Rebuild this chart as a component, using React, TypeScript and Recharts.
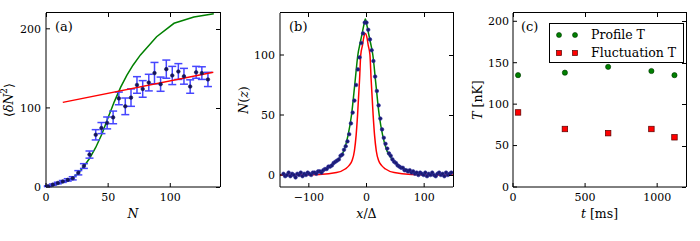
import React from 'react';
import { ComposedChart, Scatter, Line, XAxis, YAxis, ErrorBar, Legend } from 'recharts';

const SERIF = '"DejaVu Serif", "Liberation Serif", serif';
const TICK = { fontSize: 11, fontFamily: SERIF, fill: '#000' };
const CHART_H = 241;
const TOP = 13;
const X_AXIS_H = 54;
const PLOT_H = CHART_H - TOP - X_AXIS_H;

// (a) number fluctuations vs atom number
const atomNumber = [1.5, 5.5, 9.5, 13.5, 17.5, 21.5, 26, 30.5, 35, 40, 44.6, 49.2, 54, 58.6, 63.8, 68.4, 73.2, 77.8, 82.7, 87.3, 92.2, 96.8, 101.6, 106.5, 111, 116, 120.8, 125.4, 130.3];
const variance = [1, 3, 5, 7, 9, 11, 18, 26.5, 41, 66, 74.5, 81, 88, 112, 102, 113, 129, 124, 132, 144, 130, 149, 141, 146, 140, 127, 145, 144, 136];
const varianceErr = [0.5, 0.8, 1, 1.2, 1.5, 2, 2.7, 3, 4.5, 6.5, 7, 7.5, 8, 8, 10.5, 11, 10.5, 10.5, 10.5, 13.5, 9, 11.5, 11.5, 10, 10, 8.5, 7.5, 8, 9];
const theoryN = [0, 5, 10, 15, 20, 25, 30, 35, 40, 45, 50, 55, 60, 65, 70, 76, 89, 103, 119, 135];
const theoryVar = [0, 1.5, 4, 6.5, 10, 16, 25, 36, 50, 67, 88, 108, 126, 141, 154, 167, 190, 207, 215, 219];
const linearN = [13.5, 134.6];
const linearVar = [107, 145];

// (b) density profile
const posX = [-144, -141, -138, -135, -132, -129, -126, -123, -120, -117, -114, -111, -108, -105, -102, -99, -96, -93, -90, -87, -84, -81, -78, -75, -72, -69, -66, -63, -60, -57, -54, -51, -48, -45, -42, -39, -36, -33, -30, -27, -24, -21, -18, -15, -12, -9, -6, -3, 0, 3, 6, 9, 12, 15, 18, 21, 24, 27, 30, 33, 36, 39, 42, 45, 48, 51, 54, 57, 60, 63, 66, 69, 72, 75, 78, 81, 84, 87, 90, 93, 96, 99, 102, 105, 108, 111, 114, 117, 120, 123, 126, 129, 132, 135, 138, 141, 144, 147];
const posCounts = [1, -1, 0, 2, -1, 1, 0, -2, 1, 0, 2, -1, 1, 0, 2, 1, 0, 2, 2, 1, 3, 3, 2, 4, 5, 5, 7, 7, 8, 10, 11, 12, 13, 16, 17, 21, 24, 28, 34, 43, 52, 62, 75, 88, 98, 110, 118, 127, 127, 121, 113, 104, 95, 82, 70, 58, 47, 38, 31, 26, 22, 18, 16, 13, 11, 10, 8, 7, 6, 6, 4, 4, 3, 4, 2, 3, 1, 2, 0, 2, 1, 0, 2, -1, 1, 0, 2, 0, -1, 1, 2, 0, 1, -1, 2, 0, 1, 2];
const fitX = [-97, -87, -70, -55, -47, -39.5, -32, -26, -20, -15, -11, -8, -5, -2, 1, 4, 7, 11, 16, 22, 28, 35.5, 43, 51, 66, 83, 93];
const fitCounts = [1, 2, 5, 10, 14, 20, 33, 50, 77, 100, 110, 117, 124, 130, 124, 117, 110, 100, 77, 50, 33, 20, 14, 10, 5, 2, 1];
const classicalX = [-150, -82, -52, -37, -30, -25, -21, -18, -15.5, -12, -10, -7, -5, -2, 1, 3, 6, 8, 11.5, 14, 17, 21, 26, 33, 48, 78, 150];
const classicalCounts = [0, 0.5, 2, 5, 8, 12, 20, 33, 50, 80, 100, 108, 114, 118, 114, 108, 100, 80, 50, 33, 20, 12, 8, 5, 2, 0.5, 0];

// (c) temperatures
const holdTime = [35, 360, 660, 960, 1120];
const profileTemp = [135, 138, 145, 140, 135];
const fluctTemp = [90, 70, 65, 70, 60];
const seriesNames = ['Profile T', 'Fluctuation T'];

const pts = (xs: number[], ys: number[], es?: number[]) =>
  xs.map((x, i) => ({ x, y: ys[i], err: es ? es[i] : 0 }));

const fmt = (v: number) => (v < 0 ? `\u2212${-v}` : `${v}`);

const dot = (r: number, fill: string, stroke: string) => (p: any) =>
  <circle cx={p.cx} cy={p.cy} r={r} fill={fill} stroke={stroke} strokeWidth={0.6} />;
const square = (s: number, fill: string, stroke: string) => (p: any) =>
  <rect x={p.cx - s / 2} y={p.cy - s / 2} width={s} height={s} fill={fill} stroke={stroke} strokeWidth={0.7} />;

const xTitle = (title: React.ReactNode, tag: string, tagDx: number) => (props: any) => {
  const { x, y, width } = props.viewBox;
  return (
    <g>
      <text x={x + tagDx} y={y - PLOT_H + 18} fontFamily={SERIF} fontSize={13} fill="#000">{tag}</text>
      <text x={x + width / 2} y={y + 31} textAnchor="middle" fontFamily={SERIF} fontSize={12.5} fill="#000">
        {title}
      </text>
    </g>
  );
};

const yTitle = (title: React.ReactNode, cx: number) => (props: any) => {
  const { x, y, height } = props.viewBox;
  const px = x + cx;
  const py = y + height / 2;
  return (
    <text x={px} y={py} transform={`rotate(-90 ${px} ${py})`} textAnchor="middle" dominantBaseline="central"
      fontFamily={SERIF} fontSize={12.5} fill="#000">
      {title}
    </text>
  );
};

// top and right edges of a plot box, with short inward ticks (plain overlay)
function BoxEdges(p: { left: number; width: number; xDomain: number[]; yDomain: number[]; xTicks: number[]; yTicks: number[] }) {
  const fx = (v: number) => ((v - p.xDomain[0]) / (p.xDomain[1] - p.xDomain[0])) * p.width;
  const fy = (v: number) => ((p.yDomain[1] - v) / (p.yDomain[1] - p.yDomain[0])) * PLOT_H;
  return (
    <div style={{ position: 'absolute', left: p.left, top: TOP - 1, width: p.width + 1, height: PLOT_H + 1,
      borderTop: '1px solid #000', borderRight: '1px solid #000', boxSizing: 'border-box', pointerEvents: 'none' }}>
      {p.xTicks.map((v) => (
        <div key={`t${v}`} style={{ position: 'absolute', left: fx(v) - 0.5, top: 0, width: 1, height: 4, background: '#000' }} />
      ))}
      {p.yTicks.map((v) => (
        <div key={`r${v}`} style={{ position: 'absolute', right: 0, top: fy(v), width: 4, height: 1, background: '#000' }} />
      ))}
    </div>
  );
}

function frame(o: {
  xDomain: number[]; yDomain: number[]; xTicks: number[]; yTicks: number[];
  yWidth: number; yTickGap: number; xTitleText: any; yLabel: any; tag: string; tagDx: number;
}) {
  return [
    <XAxis key="xb" dataKey="x" type="number" domain={o.xDomain} ticks={o.xTicks} allowDataOverflow
      height={X_AXIS_H} tickSize={-4} tickMargin={10} tickFormatter={fmt} tick={TICK}
      axisLine={{ stroke: '#000' }} tickLine={{ stroke: '#000' }} label={{ content: xTitle(o.xTitleText, o.tag, o.tagDx) }} />,
    <YAxis key="yl" dataKey="y" type="number" domain={o.yDomain} ticks={o.yTicks} allowDataOverflow
      width={o.yWidth} tickSize={-4} tickMargin={o.yTickGap} tickFormatter={fmt} tick={TICK}
      axisLine={{ stroke: '#000' }} tickLine={{ stroke: '#000' }} label={{ content: o.yLabel }} />,
  ];
}

function TempLegend() {
  return (
    <div style={{ width: 133, height: 38, border: '1px solid #000', background: '#fff', fontFamily: SERIF, fontSize: 12.5, lineHeight: '18px' }}>
      {seriesNames.map((name, i) => (
        <div key={name} style={{ display: 'flex', alignItems: 'center', height: 18, marginTop: i === 0 ? 2 : 0 }}>
          <svg width={41} height={18} style={{ flex: 'none' }}>
            {[9, 25].map((cx) =>
              i === 0
                ? <circle key={cx} cx={cx} cy={9} r={2.5} fill="#008000" stroke="#003300" strokeWidth={0.6} />
                : <rect key={cx} x={cx - 2.5} y={6.5} width={5} height={5} fill="#ff0000" stroke="#550000" strokeWidth={0.7} />
            )}
          </svg>
          <span>{name}</span>
        </div>
      ))}
    </div>
  );
}

const panelA = { xDomain: [0, 140], yDomain: [0, 220], xTicks: [0, 50, 100], yTicks: [0, 100, 200] };
const panelB = { xDomain: [-150, 150], yDomain: [-10, 135], xTicks: [-100, 0, 100], yTicks: [0, 50, 100] };
const panelC = { xDomain: [0, 1200], yDomain: [0, 210], xTicks: [0, 500, 1000], yTicks: [0, 50, 100, 150, 200] };

export default function App() {
  const dataA = pts(atomNumber, variance, varianceErr);
  const theoryA = pts(theoryN, theoryVar);
  const linearA = pts(linearN, linearVar);
  const dataB = pts(posX, posCounts);
  const fitB = pts(fitX, fitCounts);
  const classicalB = pts(classicalX, classicalCounts);
  const profileC = pts(holdTime, profileTemp);
  const fluctC = pts(holdTime, fluctTemp);

  return (
    <div style={{ position: 'absolute', left: 0, top: 0, width: 700, height: 241, background: '#fff' }}>
      <div style={{ position: 'absolute', left: 0, top: 0 }}>
        <ComposedChart width={240} height={CHART_H} margin={{ top: TOP, right: 20, bottom: 0, left: 0 }}>
          {frame({
            ...panelA, yWidth: 46, yTickGap: 9,
            xTitleText: <tspan fontStyle="italic">N</tspan>,
            yLabel: yTitle(<>{'\u27E8'}<tspan fontStyle="italic">δN</tspan><tspan fontSize={9} dy={-4}>2</tspan><tspan dy={4}>{'\u27E9'}</tspan></>, 8),
            tag: '(a)', tagDx: 9,
          })}
          <Line data={theoryA} dataKey="y" type="linear" stroke="#008000" strokeWidth={1.5} dot={false} isAnimationActive={false} />
          <Scatter data={dataA} dataKey="y" shape={dot(1.8, '#14145a', '#14145a')} isAnimationActive={false}>
            <ErrorBar dataKey="err" direction="y" width={4} stroke="#4646ff" strokeWidth={1.5} />
          </Scatter>
          <Line data={linearA} dataKey="y" type="linear" stroke="#ff0000" strokeWidth={1.5} dot={false} isAnimationActive={false} />
        </ComposedChart>
      </div>
      <BoxEdges left={46} width={174} {...panelA} />

      <div style={{ position: 'absolute', left: 225, top: 0 }}>
        <ComposedChart width={245} height={CHART_H} margin={{ top: TOP, right: 17, bottom: 0, left: 0 }}>
          {frame({
            ...panelB, yWidth: 55, yTickGap: 9,
            xTitleText: <><tspan fontStyle="italic">x</tspan>/Δ</>,
            yLabel: yTitle(<><tspan fontStyle="italic">N</tspan>(<tspan fontStyle="italic">z</tspan>)</>, 18),
            tag: '(b)', tagDx: 9,
          })}
          <Scatter data={dataB} dataKey="y" shape={dot(1.8, '#1a1a6e', '#2a2aa0')} isAnimationActive={false} />
          <Line data={fitB} dataKey="y" type="monotone" stroke="#008000" strokeWidth={1.5} dot={false} isAnimationActive={false} />
          <Line data={classicalB} dataKey="y" type="monotone" stroke="#ff0000" strokeWidth={1.5} dot={false} isAnimationActive={false} />
        </ComposedChart>
      </div>
      <BoxEdges left={280} width={173} {...panelB} />

      <div style={{ position: 'absolute', left: 460, top: 0 }}>
        <ComposedChart width={240} height={CHART_H} margin={{ top: TOP, right: 14, bottom: 0, left: 0 }}>
          {frame({
            ...panelC, yWidth: 53, yTickGap: 8,
            xTitleText: <><tspan fontStyle="italic">t</tspan> [ms]</>,
            yLabel: yTitle(<><tspan fontStyle="italic">T</tspan> [nK]</>, 17),
            tag: '(c)', tagDx: 8,
          })}
          <Scatter name={seriesNames[0]} data={profileC} dataKey="y" fill="#008000" shape={dot(2.6, '#008000', '#003300')} isAnimationActive={false} />
          <Scatter name={seriesNames[1]} data={fluctC} dataKey="y" fill="#ff0000" shape={square(5.5, '#ff0000', '#550000')} isAnimationActive={false} />
          <Legend layout="horizontal" verticalAlign="middle" align="center" content={TempLegend}
            wrapperStyle={{ top: 23, left: 89, width: 135, height: 40 }} />
        </ComposedChart>
      </div>
      <BoxEdges left={513} width={173} {...panelC} />
    </div>
  );
}
